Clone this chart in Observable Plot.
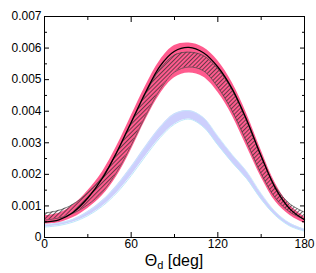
<!DOCTYPE html>
<html>
<head>
<meta charset="utf-8">
<script src="https://cdn.jsdelivr.net/npm/d3@7"></script>
<script src="https://cdn.jsdelivr.net/npm/@observablehq/plot@0.6"></script>
<style>
html,body{margin:0;padding:0;background:#fff;}
</style>
</head>
<body>
<div id="chart"></div>
<script>
const theta = [0,10,20,30,40,50,60,70,80,90,100,110,120,130,140,150,160,170,180];
const blackLine = [0.00049,0.00056,0.00080,0.00125,0.00187,0.00270,0.00365,0.00460,0.00543,0.00590,0.00602,0.00585,0.00540,0.00470,0.00372,0.00258,0.00155,0.00090,0.00056];
const hatchLo = [0.00055,0.00062,0.00077,0.00104,0.00144,0.00207,0.00292,0.00386,0.00468,0.00524,0.00540,0.00528,0.00476,0.00400,0.00302,0.00202,0.00124,0.00080,0.00058];
const hatchHi = [0.00077,0.00086,0.00106,0.00142,0.00192,0.00268,0.00362,0.00456,0.00534,0.00578,0.00587,0.00576,0.00534,0.00466,0.00368,0.00256,0.00160,0.00106,0.00080];
const pinkLo = [0.00043,0.00047,0.00063,0.00092,0.00132,0.00193,0.00277,0.00372,0.00454,0.00506,0.00521,0.00508,0.00460,0.00386,0.00288,0.00191,0.00113,0.00070,0.00045];
const pinkHi = [0.00069,0.00077,0.00103,0.00148,0.00207,0.00289,0.00385,0.00480,0.00561,0.00608,0.00616,0.00602,0.00560,0.00490,0.00392,0.00276,0.00170,0.00102,0.00065];
const blueLo = [0.00033,0.00038,0.00049,0.00069,0.00099,0.00141,0.00196,0.00258,0.00316,0.00359,0.00375,0.00350,0.00293,0.00237,0.00186,0.00121,0.00069,0.00036,0.00020];
const blueHi = [0.00040,0.00046,0.00058,0.00082,0.00117,0.00165,0.00224,0.00289,0.00349,0.00392,0.00402,0.00380,0.00321,0.00262,0.00209,0.00139,0.00081,0.00045,0.00026];
const xMajor = [0,60,120,180];
const xMinor = [30,90,150];
const yMajor = [0,0.001,0.002,0.003,0.004,0.005,0.006,0.007];
const yMinor = [0.0005,0.0015,0.0025,0.0035,0.0045,0.0055,0.0065];

const rows = theta.map((t,i)=>({t, b:blackLine[i], hl:hatchLo[i], hh:hatchHi[i], pl:pinkLo[i], ph:pinkHi[i], bl:blueLo[i], bh:blueHi[i]}));
const curve = "catmull-rom";
const fmt = d => d === 0 ? "0" : d.toFixed(3);

const chart = Plot.plot({
  width: 316, height: 273,
  marginLeft: 44, marginRight: 12, marginTop: 16, marginBottom: 36,
  x: {domain:[0,180]},
  y: {domain:[0,0.007]},
  style: {fontFamily:"'Liberation Sans', Arial, sans-serif", fontSize:"12px", color:"#000", background:"#fff"},
  marks: [
    Plot.areaY(rows,{x:"t", y1:"bl", y2:"bh", fill:"#cdcffd", curve}),
    Plot.lineY(rows,{x:"t", y:"bl", stroke:"#bde8fa", strokeWidth:1, curve}),
    Plot.lineY(rows,{x:"t", y:"bh", stroke:"#c8ecfb", strokeWidth:0.8, curve}),
    Plot.areaY(rows,{x:"t", y1:"pl", y2:"ph", fill:"#ff5b8e", curve}),
    Plot.areaY(rows,{x:"t", y1:"hl", y2:"hh", fill:"url(#hatch)", curve}),
    Plot.lineY(rows,{x:"t", y:"hl", stroke:"#444", strokeWidth:0.7, curve}),
    Plot.lineY(rows,{x:"t", y:"hh", stroke:"#444", strokeWidth:0.7, curve}),
    Plot.lineY(rows,{x:"t", y:"b", stroke:"#000", strokeWidth:1.3, curve}),
    Plot.frame({stroke:"#000"}),
    Plot.axisX(xMajor,{anchor:"bottom", tickSize:-5, fill:"none"}),
    Plot.axisX(xMinor,{anchor:"bottom", tickSize:-3, fill:"none"}),
    Plot.axisX(xMajor,{anchor:"top", tickSize:-5, fill:"none"}),
    Plot.axisX(xMinor,{anchor:"top", tickSize:-3, fill:"none"}),
    Plot.axisX(xMajor,{anchor:"bottom", tickSize:0, tickPadding:2, label:null, fontSize:12}),
    Plot.axisY(yMajor,{anchor:"left", tickSize:-5, fill:"none"}),
    Plot.axisY(yMinor,{anchor:"left", tickSize:-3, fill:"none"}),
    Plot.axisY(yMajor,{anchor:"right", tickSize:-5, fill:"none"}),
    Plot.axisY(yMinor,{anchor:"right", tickSize:-3, fill:"none"}),
    Plot.axisY(yMajor,{anchor:"left", tickSize:0, tickPadding:3, label:null, tickFormat:fmt, fontSize:12})
  ]
});

const ns = "http://www.w3.org/2000/svg";
const defs = document.createElementNS(ns,"defs");
defs.innerHTML = '<pattern id="hatch" patternUnits="userSpaceOnUse" width="3" height="3" patternTransform="rotate(45)"><line x1="0.5" y1="0" x2="0.5" y2="3" stroke="#2a2a2a" stroke-width="0.7"/></pattern>';
chart.insertBefore(defs, chart.firstChild);

const xs = chart.scale("x");
const lab = document.createElementNS(ns,"text");
lab.setAttribute("x", (xs.apply(0)+xs.apply(180))/2);
lab.setAttribute("y", 266);
lab.setAttribute("text-anchor","middle");
lab.setAttribute("font-size","16");
lab.setAttribute("fill","#000");
lab.innerHTML = 'Θ<tspan font-size="11" dy="3">d</tspan><tspan dy="-3"> [deg]</tspan>';
chart.appendChild(lab);

document.getElementById("chart").appendChild(chart);
</script>
</body>
</html>
